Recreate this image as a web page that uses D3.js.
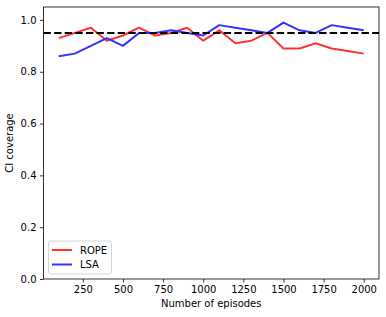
<!DOCTYPE html>
<html>
<head>
<meta charset="utf-8">
<script src="https://cdn.jsdelivr.net/npm/d3@7"></script>
<style>
body { margin: 0; background: #fff; }
text { font-family: "DejaVu Sans", sans-serif; }
</style>
</head>
<body>
<div id="chart"></div>
<script>
// episodes on the x axis
var episodes = [100, 200, 300, 400, 500, 600, 700, 800, 900, 1000,
    1100, 1200, 1300, 1400, 1500, 1600, 1700, 1800, 1900, 2000];
var rope_cov = [0.93, 0.95, 0.97, 0.92, 0.94, 0.97, 0.94, 0.95, 0.97, 0.92,
    0.96, 0.91, 0.92, 0.95, 0.89, 0.89, 0.91, 0.89, 0.88, 0.87];
var lsa_cov = [0.86, 0.87, 0.90, 0.93, 0.90, 0.95, 0.95, 0.96, 0.95, 0.94,
    0.98, 0.97, 0.96, 0.95, 0.99, 0.96, 0.95, 0.98, 0.97, 0.96];
var x_ticks = [250, 500, 750, 1000, 1250, 1500, 1750, 2000];
var y_ticks = [0.0, 0.2, 0.4, 0.6, 0.8, 1.0];
var target = 0.95;
var series = [
    {name: "ROPE", values: rope_cov, color: "#ff3333"},
    {name: "LSA", values: lsa_cov, color: "#3333ff"}
];

var svg_width = 386, svg_height = 317;
var margins = {top: 7, right: 7, bottom: 38, left: 43.5};
var chartWidth = svg_width - margins.left - margins.right;
var chartHeight = svg_height - margins.top - margins.bottom;

var svg = d3.select("#chart").append("svg")
    .attr("width", svg_width)
    .attr("height", svg_height);
var g = svg.append("g")
    .attr("transform", `translate(${margins.left},${margins.top})`);

var x_linearscale = d3.scaleLinear().domain([5, 2095]).range([0, chartWidth]);
var y_linearscale = d3.scaleLinear().domain([0, 1.05]).range([chartHeight, 0]);

// axes
var bottom_axis = d3.axisBottom(x_linearscale).tickValues(x_ticks).tickSize(3.5).tickPadding(3.5)
    .tickFormat(d3.format("d"));
var left_axis = d3.axisLeft(y_linearscale).tickValues(y_ticks).tickSize(3.5).tickPadding(3.5)
    .tickFormat(d3.format(".1f"));
var xAxis = g.append("g").attr("transform", `translate(0,${chartHeight})`).call(bottom_axis);
var yAxis = g.append("g").call(left_axis);
[xAxis, yAxis].forEach(function(a) {
    a.select(".domain").remove();
    a.selectAll("text").attr("font-size", 10).attr("fill", "#000")
        .attr("font-family", "DejaVu Sans, sans-serif");
    a.selectAll("line").attr("stroke", "#000").attr("stroke-width", 0.8);
});

// lines
var line = d3.line()
    .x((d, i) => x_linearscale(episodes[i]))
    .y(d => y_linearscale(d));
series.forEach(function(s) {
    g.append("path")
        .datum(s.values)
        .attr("d", line)
        .attr("fill", "none")
        .attr("stroke", s.color)
        .attr("stroke-width", 2)
        .attr("stroke-linejoin", "round");
});

// target line
g.append("line")
    .attr("x1", 0).attr("x2", chartWidth)
    .attr("y1", y_linearscale(target)).attr("y2", y_linearscale(target))
    .attr("stroke", "#000").attr("stroke-width", 2)
    .attr("stroke-dasharray", "7.4,3.2");

// frame
g.append("rect")
    .attr("width", chartWidth).attr("height", chartHeight)
    .attr("fill", "none").attr("stroke", "#000").attr("stroke-width", 0.8);

// labels
g.append("text")
    .attr("x", chartWidth / 2).attr("y", chartHeight + 28)
    .attr("text-anchor", "middle").attr("font-size", 10)
    .text("Number of episodes");
g.append("text")
    .attr("transform", `translate(${-31},${chartHeight / 2}) rotate(-90)`)
    .attr("text-anchor", "middle").attr("font-size", 10)
    .text("CI coverage");

// legend
var legend = g.append("g").attr("transform", `translate(5,${chartHeight - 38})`);
legend.append("rect")
    .attr("width", 63).attr("height", 33).attr("rx", 2)
    .attr("fill", "#fff").attr("fill-opacity", 0.8)
    .attr("stroke", "#ccc").attr("stroke-width", 0.8);
series.forEach(function(s, i) {
    var yy = 9 + i * 14.5;
    legend.append("line")
        .attr("x1", 3.5).attr("x2", 23.5).attr("y1", yy).attr("y2", yy)
        .attr("stroke", s.color).attr("stroke-width", 2);
    legend.append("text")
        .attr("x", 31.5).attr("y", yy + 3.5).attr("font-size", 10)
        .text(s.name);
});
</script>
</body>
</html>
